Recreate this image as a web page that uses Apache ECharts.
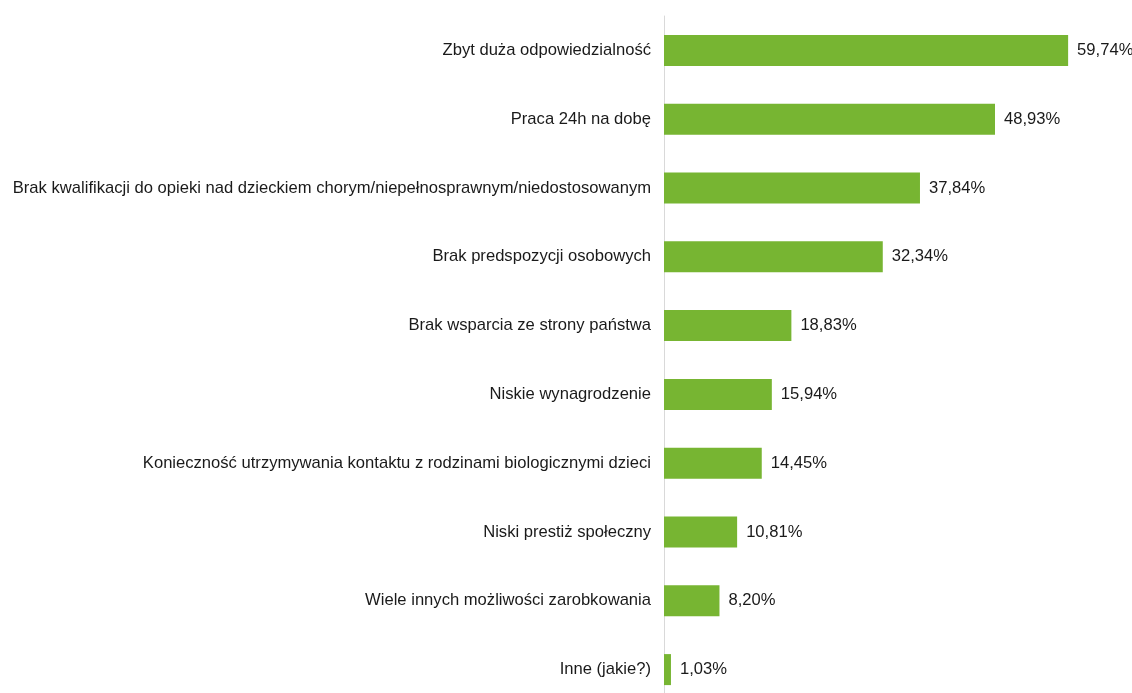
<!DOCTYPE html>
<html>
<head>
<meta charset="utf-8">
<script src="https://cdn.jsdelivr.net/npm/echarts@6/dist/echarts.min.js"></script>
<style>
html,body{margin:0;padding:0;background:#fff;overflow:hidden;}
#c{width:1132px;height:720px;}
</style>
</head>
<body>
<div id="c"></div>
<script>
const categories = [
  "Zbyt duża odpowiedzialność",
  "Praca 24h na dobę",
  "Brak kwalifikacji do opieki nad dzieckiem chorym/niepełnosprawnym/niedostosowanym",
  "Brak predspozycji osobowych",
  "Brak wsparcia ze strony państwa",
  "Niskie wynagrodzenie",
  "Konieczność utrzymywania kontaktu z rodzinami biologicznymi dzieci",
  "Niski prestiż społeczny",
  "Wiele innych możliwości zarobkowania",
  "Inne (jakie?)"
];
const values = [59.74, 48.93, 37.84, 32.34, 18.83, 15.94, 14.45, 10.81, 8.20, 1.03];

const FONT = '"Liberation Sans", Arial, Helvetica, sans-serif';
const chart = echarts.init(document.getElementById('c'), null, {renderer: 'canvas'});
chart.setOption({
  animation: false,
  backgroundColor: '#ffffff',
  textStyle: {fontFamily: FONT},
  grid: {left: 664, top: 16, width: 460, height: 688, containLabel: false},
  xAxis: {
    type: 'value', min: 0, max: 68,
    show: false
  },
  yAxis: {
    type: 'category',
    data: categories,
    inverse: true,
    axisLine: {show: true, lineStyle: {color: '#d9d9d9', width: 1}},
    axisTick: {show: false},
    axisLabel: {color: '#1a1a1a', fontSize: 16.6, margin: 13, fontFamily: FONT},
    splitLine: {show: false}
  },
  series: [{
    type: 'bar',
    data: values,
    barWidth: 31,
    itemStyle: {color: '#77b532'},
    label: {
      show: true,
      position: 'right',
      distance: 9,
      color: '#1a1a1a',
      fontSize: 16.6,
      fontFamily: FONT,
      formatter: p => p.value.toFixed(2).replace('.', ',') + '%'
    }
  }]
});
</script>
</body>
</html>
